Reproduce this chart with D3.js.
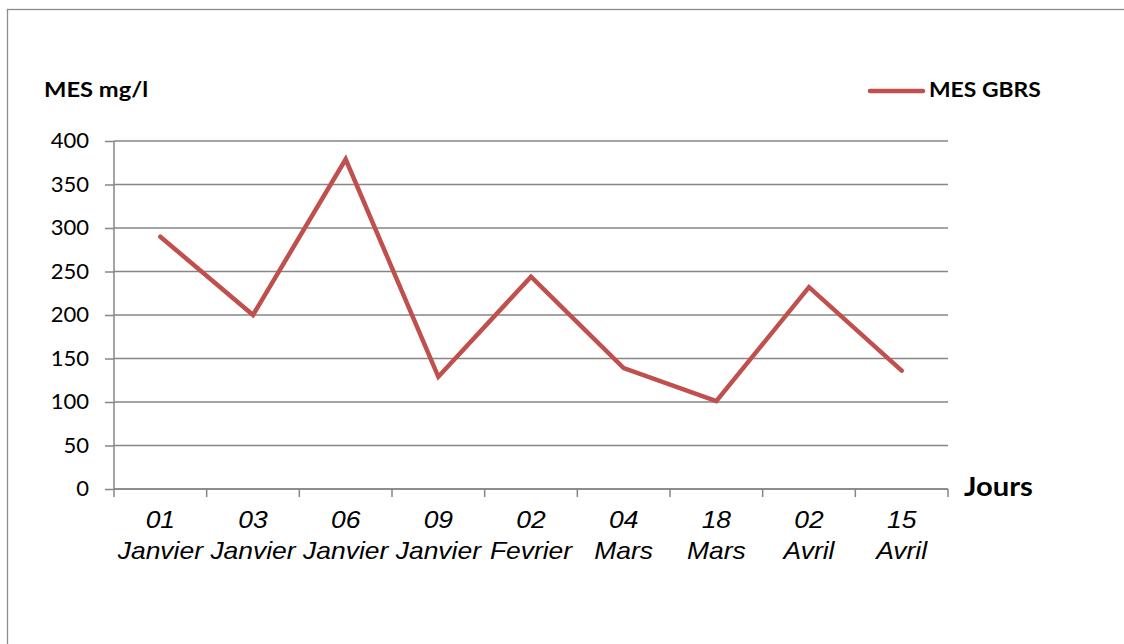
<!DOCTYPE html>
<html><head><meta charset="utf-8">
<script src="https://cdn.jsdelivr.net/npm/d3@7"></script>
<style>body{margin:0;background:#fff}svg{display:block}</style>
</head><body>
<svg id="c" width="1124" height="644"></svg>
<script>
const dayLabels = ["01","03","06","09","02","04","18","02","15"];
const monthLabels = ["Janvier","Janvier","Janvier","Janvier","Fevrier","Mars","Mars","Avril","Avril"];
const mesGBRS = [290, 200, 379, 129, 244, 139, 101, 232, 136];
const yTicks = [0,50,100,150,200,250,300,350,400];

const svg = d3.select("#c");
const L = 114, R = 948, T = 141, B = 489;
const cats = dayLabels.map((d,i)=>i);
const x = d3.scaleBand().domain(cats).range([L,R]).padding(0);
const y = d3.scaleLinear().domain([0,400]).range([B,T]);
const SANS = "Lato, 'Open Sans', sans-serif";

// outer border
svg.append("rect").attr("x",7.5).attr("y",9.5).attr("width",1200).attr("height",700)
  .attr("fill","none").attr("stroke","#8c8c8c").attr("stroke-width",1.3);

// y axis
const ya = svg.append("g").attr("transform",`translate(${L},0)`)
  .call(d3.axisLeft(y).tickValues(yTicks).tickSize(9).tickPadding(16));
ya.select(".domain").attr("stroke","#868686").attr("stroke-width",1.5).attr("d",`M0,${T}V${B}`);
ya.selectAll(".tick line").attr("stroke","#868686").attr("stroke-width",1.5);
ya.selectAll(".tick text").attr("font-family",SANS).attr("font-size",21).attr("fill","#000")
  .attr("transform","scale(1.05,1)").attr("x",-25/1.05);
svg.append("g").selectAll("line").data(yTicks).join("line")
  .attr("x1",L).attr("x2",R).attr("y1",d=>y(d)).attr("y2",d=>y(d))
  .attr("stroke","#868686").attr("stroke-width",1.5);

// x axis
const xa = svg.append("g").attr("transform",`translate(0,${B})`);
xa.append("line").attr("x1",L).attr("x2",R).attr("stroke","#868686").attr("stroke-width",1.5);
const edges = cats.map(i=>x(i)).concat([R]);
xa.selectAll("line.tk").data(edges).join("line").attr("class","tk")
  .attr("x1",d=>d).attr("x2",d=>d).attr("y1",0).attr("y2",8)
  .attr("stroke","#868686").attr("stroke-width",1.5);
const lbl = xa.selectAll("text.xl").data(cats).join("text").attr("class","xl")
  .attr("transform",i=>`translate(${x(i)+x.bandwidth()/2},0) scale(1.15,1)`)
  .attr("text-anchor","middle")
  .attr("font-family","'Liberation Sans', Arial, sans-serif").attr("font-style","italic")
  .attr("font-size",23).attr("fill","#000");
lbl.append("tspan").attr("x",0).attr("y",39).text(i=>dayLabels[i]);
lbl.append("tspan").attr("x",0).attr("y",70).text(i=>monthLabels[i]);

// line
const line = d3.line().x((d,i)=>x(i)+x.bandwidth()/2).y(d=>y(d));
svg.append("path").datum(mesGBRS).attr("d",line).attr("fill","none")
  .attr("stroke","#C0504D").attr("stroke-width",4.5).attr("stroke-linejoin","miter").attr("stroke-linecap","round");

// titles
function label(txt, x0, y0, size, sx) {
  svg.append("text").attr("transform",`translate(${x0},${y0}) scale(${sx},1)`).text(txt)
    .attr("font-family",SANS).attr("font-weight","bold").attr("font-size",size).attr("fill","#000");
}
label("MES mg/l", 44, 97, 21, 1.13);
label("Jours", 964, 496, 27, 1.08);

// legend
svg.append("line").attr("x1",870).attr("x2",923).attr("y1",91).attr("y2",91)
  .attr("stroke","#C0504D").attr("stroke-width",4.5).attr("stroke-linecap","round");
label("MES GBRS", 929, 97, 21, 1.09);
</script>
</body></html>
